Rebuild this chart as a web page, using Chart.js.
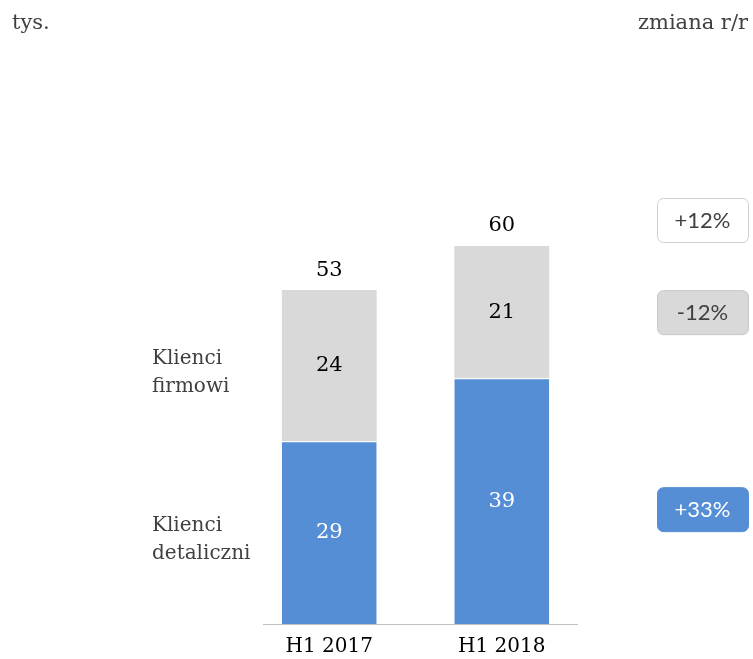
<!DOCTYPE html>
<html>
<head>
<meta charset="utf-8">
<script src="https://cdn.jsdelivr.net/npm/chart.js@4.4.0/dist/chart.umd.min.js"></script>
<style>
    html, body { margin: 0; padding: 0; background: #fff; }
    #wrap { width: 753px; height: 659px; position: relative; }
</style>
</head>
<body>
<div id="wrap"><canvas id="myChart" width="753" height="659"></canvas></div>
<script>
const periods = ["H1 2017", "H1 2018"];
const retail = [29, 39];
const corporate = [24, 21];
const seriesNames = [["Klienci", "detaliczni"], ["Klienci", "firmowi"]];
const changes = ["+12%", "-12%", "+33%"];

const serif = "'DejaVu Serif', serif";
const sans = "Lato, 'Open Sans', sans-serif";

// labels in segments, totals, side texts and the change boxes
const annotate = {
    id: "annotate",
    afterDatasetsDraw(chart) {
        const ctx = chart.ctx;
        const area = chart.chartArea;
        ctx.save();

        // axis line
        ctx.strokeStyle = "#bfbfbf";
        ctx.lineWidth = 1;
        ctx.beginPath();
        ctx.moveTo(area.left + 20, area.bottom + 0.5);
        ctx.lineTo(area.right - 10, area.bottom + 0.5);
        ctx.stroke();

        ctx.textAlign = "center";
        ctx.textBaseline = "middle";
        ctx.font = "21px " + serif;
        chart.data.datasets.forEach(function (ds, di) {
            const meta = chart.getDatasetMeta(di);
            meta.data.forEach(function (bar, i) {
                ctx.fillStyle = di === 0 ? "#ffffff" : "#000000";
                ctx.fillText(ds.data[i], bar.x, (bar.y + bar.base) / 2);
            });
        });

        // totals
        const top = chart.getDatasetMeta(1);
        top.data.forEach(function (bar, i) {
            ctx.fillStyle = "#000000";
            ctx.fillText(retail[i] + corporate[i], bar.x, bar.y - 20);
        });

        // series names on the left
        ctx.textAlign = "left";
        ctx.fillStyle = "#404040";
        ctx.font = "20px " + serif;
        const first = [chart.getDatasetMeta(0).data[0], chart.getDatasetMeta(1).data[0]];
        first.forEach(function (bar, di) {
            const mid = (bar.y + bar.base) / 2;
            ctx.fillText(seriesNames[di][0], 152, mid - 7);
            ctx.fillText(seriesNames[di][1], 152, mid + 21);
        });

        // header texts
        ctx.textBaseline = "alphabetic";
        ctx.font = "21px " + serif;
        ctx.fillText("tys.", 12, 29);
        ctx.textAlign = "right";
        ctx.fillText("zmiana r/r", 748, 29);

        // change boxes, aligned with the H1 2018 bar
        const last = periods.length - 1;
        const b0 = chart.getDatasetMeta(0).data[last];
        const b1 = chart.getDatasetMeta(1).data[last];
        const boxes = [
            { cy: b1.y - 26, fill: "#ffffff", stroke: "#d0d0d0", text: "#404040" },
            { cy: (b1.y + b1.base) / 2, fill: "#d9d9d9", stroke: "#c8c8c8", text: "#404040" },
            { cy: (b0.y + b0.base) / 2 + 8, fill: "#558ed5", stroke: "#558ed5", text: "#ffffff" }
        ];
        ctx.textAlign = "center";
        ctx.textBaseline = "middle";
        ctx.font = "22px " + sans;
        boxes.forEach(function (b, i) {
            const x = 657, w = 91, h = 44, yy = b.cy - h / 2;
            ctx.beginPath();
            ctx.roundRect(x + 0.5, yy + 0.5, w, h, 6);
            ctx.fillStyle = b.fill;
            ctx.fill();
            ctx.strokeStyle = b.stroke;
            ctx.stroke();
            ctx.fillStyle = b.text;
            ctx.fillText(changes[i], x + w / 2, b.cy + 1);
        });
        ctx.restore();
    }
};

const config = {
    type: "bar",
    data: {
        labels: periods,
        datasets: [
            {
                label: "Klienci detaliczni",
                data: retail,
                backgroundColor: "#558ed5",
                borderColor: "#ffffff",
                borderWidth: { top: 1 },
                borderSkipped: false,
            },
            {
                label: "Klienci firmowi",
                data: corporate,
                backgroundColor: "#d9d9d9",
                borderWidth: 0,
            },
        ],
    },
    options: {
        responsive: false,
        animation: false,
        layout: {
            padding: { left: 243, right: 165, top: 183, bottom: 0 },
        },
        datasets: {
            bar: { categoryPercentage: 1, barPercentage: 0.55 },
        },
        plugins: {
            legend: { display: false },
            tooltip: { enabled: false },
        },
        scales: {
            x: {
                stacked: true,
                grid: { display: false, drawTicks: false },
                border: { display: false },
                afterFit: function (scale) { scale.height = 35; },
                ticks: {
                    padding: 11,
                    color: "#000000",
                    font: { family: serif, size: 20 },
                },
            },
            y: {
                stacked: true,
                display: false,
                min: 0,
                max: 70,
            },
        },
    },
    plugins: [annotate],
};

var myChart = new Chart(document.getElementById("myChart"), config);
</script>
</body>
</html>
